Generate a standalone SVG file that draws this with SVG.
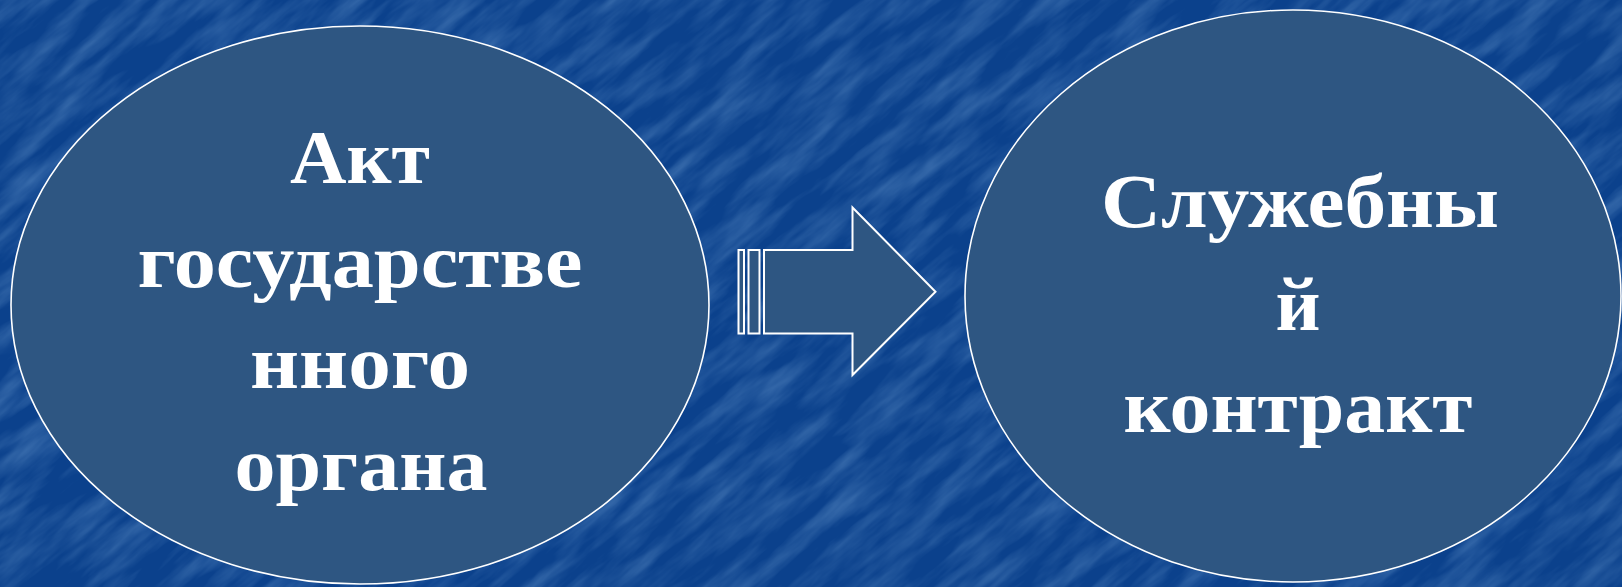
<svg xmlns="http://www.w3.org/2000/svg" width="1622" height="587" viewBox="0 0 1622 587">
  <defs>
    <filter id="tex" x="-1200" y="-1400" width="4000" height="3400" filterUnits="userSpaceOnUse">
      <feTurbulence type="fractalNoise" baseFrequency="0.012 0.06" numOctaves="4" seed="11"/>
      <feColorMatrix type="matrix" values="0 0 0 0 0.24  0 0 0 0 0.46  0 0 0 0 0.76  0 0 0 1.4 -0.5"/>
    </filter>
    <style>
      .node { fill: #2E5682; stroke: #FFFFFF; stroke-width: 1.6; }
      .arrow { fill: #2E5682; stroke: #FFFFFF; stroke-width: 2; }
      .lbl { font-family: "Liberation Serif", "Times New Roman", serif; font-weight: bold; font-size: 76px; fill: #FFFFFF; text-anchor: middle; }
    </style>
  </defs>
  <rect x="0" y="0" width="1622" height="587" fill="#0B418C"/>
  <g transform="rotate(-40 811 293)" opacity="0.45">
    <rect x="-1200" y="-1400" width="4000" height="3400" filter="url(#tex)"/>
  </g>

  <g id="node-act">
    <ellipse class="node" cx="360" cy="305" rx="349" ry="279"/>
    <text class="lbl" x="360" y="183" textLength="140" lengthAdjust="spacingAndGlyphs">Акт</text>
    <text class="lbl" x="360" y="287" textLength="445" lengthAdjust="spacingAndGlyphs">государстве</text>
    <text class="lbl" x="360" y="388" textLength="220" lengthAdjust="spacingAndGlyphs">нного</text>
    <text class="lbl" x="361" y="490" textLength="253" lengthAdjust="spacingAndGlyphs">органа</text>
  </g>

  <g id="node-contract">
    <ellipse class="node" cx="1293" cy="296" rx="328" ry="286"/>
    <text class="lbl" x="1300" y="227" textLength="398" lengthAdjust="spacingAndGlyphs">Служебны</text>
    <text class="lbl" x="1298" y="330" textLength="45" lengthAdjust="spacingAndGlyphs">й</text>
    <text class="lbl" x="1298" y="432" textLength="349" lengthAdjust="spacingAndGlyphs">контракт</text>
  </g>

  <g id="connectors">
    <rect class="arrow" x="738.5" y="250" width="5.5" height="83.5"/>
    <rect class="arrow" x="748.5" y="250" width="11" height="83.5"/>
    <path class="arrow" d="M764 250 L852.5 250 L852.5 207.5 L935.5 291.7 L852.5 375 L852.5 333.5 L764 333.5 Z"/>
  </g>
</svg>
